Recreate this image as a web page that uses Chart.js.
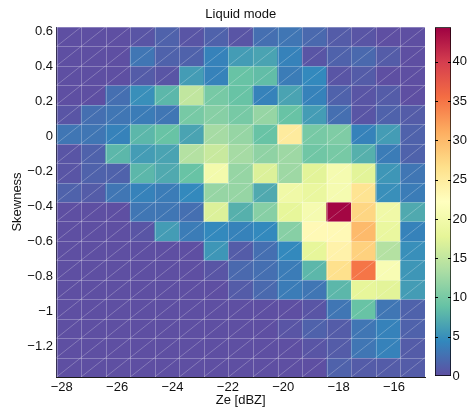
<!DOCTYPE html>
<html>
<head>
<meta charset="utf-8">
<script src="https://cdn.jsdelivr.net/npm/chart.js@4/dist/chart.umd.min.js"></script>
<style>
  html, body { margin: 0; padding: 0; background: #fff; }
  #wrap { position: relative; width: 469px; height: 414px; }
  #wrap canvas { position: absolute; left: 0; top: 0; }
  #cbar { pointer-events: none; }
</style>
</head>
<body>
<div id="wrap">
  <canvas id="main" width="469" height="414"></canvas>
  <canvas id="cbar" width="469" height="414"></canvas>
</div>
<script>
// ---------- DATA ----------
const chartTitle = 'Liquid mode';
const xAxisTitle = 'Ze [dBZ]';
const yAxisTitle = 'Skewness';

// bin edges (Ze, dBZ) – 15 columns
const xEdges = [-28.19, -27.303, -26.415, -25.528, -24.641, -23.754, -22.866, -21.979,
                -21.092, -20.204, -19.317, -18.430, -17.542, -16.655, -15.768, -14.880];
// bin edges (Skewness), top to bottom – 18 rows
const yEdges = [0.623, 0.512, 0.401, 0.290, 0.179, 0.068, -0.043, -0.155, -0.266, -0.377,
                -0.488, -0.599, -0.710, -0.821, -0.932, -1.043, -1.155, -1.266, -1.377];

// tick labels
const xTicks = [-28, -26, -24, -22, -20, -18, -16];
const yTicks = [0.6, 0.4, 0.2, 0, -0.2, -0.4, -0.6, -0.8, -1, -1.2];
const cbarTicks = [0, 5, 10, 15, 20, 25, 30, 35, 40];
const cbarMax = 44.4;

// counts per cell, rows top (high skewness) to bottom, columns left to right
const counts = [
  [0, 0, 0, 0.5, 1.5, 0.5, 1.5, 0.5, 2.5, 3, 2, 1, 0.5, 0, 0],
  [0, 0, 0, 3, 1.5, 1.5, 4, 6, 6.5, 4, 0.5, 1.5, 2, 1, 0],
  [0, 0, 0, 1, 0.5, 6, 4, 9, 8.5, 3.5, 4.5, 0.5, 1, 0, 0],
  [0, 0, 2.5, 5, 8, 15, 10, 9, 4, 6.5, 4, 1.5, 0.5, 1, 0],
  [0.5, 2.5, 3, 3.5, 3, 10, 11, 10, 12, 9, 6, 2.5, 0.5, 1.5, 1],
  [3, 3, 4, 8, 9, 6.5, 13, 12, 9, 25, 10, 10.5, 4, 6, 1.5],
  [0.5, 1.5, 8, 6, 6.5, 14, 15.5, 13, 11.5, 12.5, 9.5, 10, 7.5, 3.5, 1.5],
  [0.5, 1.5, 1.5, 8, 7, 9, 20, 12, 17, 12.5, 17.5, 20.5, 17.5, 5.5, 3],
  [1.5, 1, 3, 4, 3.5, 4.5, 12, 12, 7, 19.5, 18.5, 20.5, 26, 5, 3.5],
  [0, 0, 0, 3, 3, 2.5, 17, 7.5, 11, 18, 20.5, 44, 27.5, 19.5, 7],
  [0, 0, 0, 0.5, 6, 3.5, 4.5, 4, 4.5, 11, 23, 23, 30, 18.5, 4],
  [0, 0, 0, 0, 0, 0, 5.5, 1, 2.5, 4.5, 18, 24, 28, 14, 5],
  [0, 0, 0, 0, 0, 0, 0.5, 2, 2.5, 3.5, 8, 26.5, 35, 21, 5.5],
  [0, 0, 0, 0, 0, 0, 0, 1, 2, 3.5, 3, 8, 18, 17.5, 6],
  [0, 0, 0, 0, 0, 0, 0, 0, 0, 0, 0.5, 3, 9, 3, 1.5],
  [0, 0, 0, 0, 0, 0, 0, 0, 0, 0.5, 1.5, 1, 3, 4, 1.5],
  [0, 0, 0, 0, 0, 0, 0, 0, 0, 0, 0.5, 1, 3, 4, 1],
  [0, 0, 0, 0, 0, 0, 0, 0, 0, 0, 0, 1.5, 1, 1, 1]
];

// ---------- COLOUR MAP (Spectral, reversed) ----------
const spectralR = ['#5e4fa2','#3288bd','#66c2a5','#abdda4','#e6f598','#ffffbf',
                   '#fee08b','#fdae61','#f46d43','#d53e4f','#9e0142'];
function hexToRgb(h) { return [parseInt(h.slice(1,3),16), parseInt(h.slice(3,5),16), parseInt(h.slice(5,7),16)]; }
const cmapRgb = spectralR.map(hexToRgb);
function colorFor(v) {
  let t = Math.max(0, Math.min(1, v / cbarMax)) * (cmapRgb.length - 1);
  let i = Math.min(Math.floor(t), cmapRgb.length - 2);
  const f = t - i;
  const a = cmapRgb[i], b = cmapRgb[i + 1];
  const c = a.map((x, k) => Math.round(x + (b[k] - x) * f));
  return `rgb(${c[0]},${c[1]},${c[2]})`;
}

const FONT = { family: '"Liberation Sans", Arial, Helvetica, sans-serif', size: 13 };
const TXT = '#111';
const fmt = v => { const s = String(Math.round(v * 10) / 10); return s.replace('-', '\u2212'); };

// ---------- HEATMAP ----------
const datasets = counts.map((row, r) => ({
  data: row.map((v, c) => ({ x: (xEdges[c] + xEdges[c + 1]) / 2, y: [yEdges[r + 1], yEdges[r]] })),
  backgroundColor: row.map(colorFor),
  borderWidth: 0,
  grouped: false,
  barPercentage: 1,
  categoryPercentage: 1
}));

const cellLines = {
  id: 'cellLines',
  afterDatasetsDraw(chart) {
    const { ctx, chartArea: a } = chart;
    const xs = chart.scales.x, ys = chart.scales.y;
    ctx.save();
    ctx.beginPath(); ctx.rect(a.left, a.top, a.right - a.left, a.bottom - a.top); ctx.clip();
    // diagonals
    ctx.strokeStyle = 'rgba(255,255,255,0.42)';
    ctx.lineWidth = 0.6;
    ctx.beginPath();
    for (let r = 0; r < yEdges.length - 1; r++) {
      const yt = ys.getPixelForValue(yEdges[r]), yb = ys.getPixelForValue(yEdges[r + 1]);
      for (let c = 0; c < xEdges.length - 1; c++) {
        const x0 = xs.getPixelForValue(xEdges[c]), x1 = xs.getPixelForValue(xEdges[c + 1]);
        ctx.moveTo(x0, yb); ctx.lineTo(x1, yt);
      }
    }
    ctx.stroke();
    // cell edges
    ctx.strokeStyle = 'rgba(255,255,255,0.28)';
    ctx.lineWidth = 1;
    ctx.beginPath();
    xEdges.forEach(e => { const p = Math.round(xs.getPixelForValue(e)) + 0.5; ctx.moveTo(p, a.top); ctx.lineTo(p, a.bottom); });
    yEdges.forEach(e => { const p = Math.round(ys.getPixelForValue(e)) + 0.5; ctx.moveTo(a.left, p); ctx.lineTo(a.right, p); });
    ctx.stroke();
    ctx.restore();
  }
};

new Chart(document.getElementById('main'), {
  type: 'bar',
  data: { datasets },
  options: {
    responsive: false,
    animation: false,
    events: [],
    layout: { padding: { left: 0, right: 44, top: 0, bottom: 0 } },
    plugins: {
      legend: { display: false },
      tooltip: { enabled: false },
      title: {
        display: true, text: chartTitle, color: TXT, fullSize: false,
        font: { ...FONT, weight: 'normal' }, padding: { top: 6.5, bottom: 4.9 }
      }
    },
    scales: {
      x: {
        type: 'linear', offset: false, min: xEdges[0], max: xEdges[xEdges.length - 1],
        afterBuildTicks: s => { s.ticks = xTicks.map(v => ({ value: v })); },
        afterFit: s => { s.height = 37; },
        grid: { display: false, drawTicks: false },
        border: { display: true, color: '#1a1a1a', width: 1 },
        ticks: { color: TXT, font: FONT, padding: 3, maxRotation: 0, autoSkip: false, callback: v => fmt(v) },
        title: { display: true, text: xAxisTitle, color: TXT, font: FONT, padding: { top: 0, bottom: 5.5 } }
      },
      y: {
        type: 'linear', min: yEdges[yEdges.length - 1], max: yEdges[0],
        afterBuildTicks: s => { s.ticks = yTicks.map(v => ({ value: v })); },
        afterFit: s => { s.width = 56.5; },
        grid: { display: false, drawTicks: false },
        border: { display: true, color: '#1a1a1a', width: 1 },
        ticks: { color: TXT, font: FONT, padding: 3.5, autoSkip: false, callback: v => fmt(v) },
        title: { display: true, text: yAxisTitle, color: TXT, font: FONT, padding: { top: 9.7, bottom: 0 } }
      }
    }
  },
  plugins: [cellLines]
});

// ---------- COLOUR BAR ----------
const cbarTicksPlugin = {
  id: 'cbarTicks',
  afterDatasetsDraw(chart) {
    const { ctx, chartArea: a } = chart;
    const ys = chart.scales.y;
    ctx.save();
    ctx.strokeStyle = '#000'; ctx.lineWidth = 1;
    ctx.beginPath();
    cbarTicks.forEach(v => {
      if (v === 0) return;
      const p = Math.round(ys.getPixelForValue(v)) + 0.5;
      ctx.moveTo(a.left, p); ctx.lineTo(a.left + 3, p);
      ctx.moveTo(a.right - 3, p); ctx.lineTo(a.right, p);
    });
    ctx.stroke();
    ctx.restore();
  }
};

new Chart(document.getElementById('cbar'), {
  type: 'bar',
  data: {
    labels: [''],
    datasets: [{
      data: [[0, cbarMax]],
      backgroundColor: (c) => {
        const chart = c.chart;
        if (!chart.chartArea) return spectralR[0];
        const ys = chart.scales.y;
        const g = chart.ctx.createLinearGradient(0, ys.getPixelForValue(0), 0, ys.getPixelForValue(cbarMax));
        spectralR.forEach((col, i) => g.addColorStop(i / (spectralR.length - 1), col));
        return g;
      },
      borderColor: '#000', borderWidth: 1, borderSkipped: false,
      barPercentage: 1, categoryPercentage: 1
    }]
  },
  options: {
    responsive: false,
    animation: false,
    events: [],
    layout: { padding: { left: 435, right: 0, top: 27.3, bottom: 38 } },
    plugins: { legend: { display: false }, tooltip: { enabled: false }, title: { display: false } },
    scales: {
      x: { display: false },
      y: {
        position: 'right', min: 0, max: cbarMax,
        afterBuildTicks: s => { s.ticks = cbarTicks.map(v => ({ value: v })); },
        afterFit: s => { s.width = 18; },
        grid: { display: false, drawTicks: false },
        border: { display: false },
        ticks: { color: TXT, font: FONT, padding: 1.5, autoSkip: false }
      }
    }
  },
  plugins: [cbarTicksPlugin]
});
</script>
</body>
</html>
